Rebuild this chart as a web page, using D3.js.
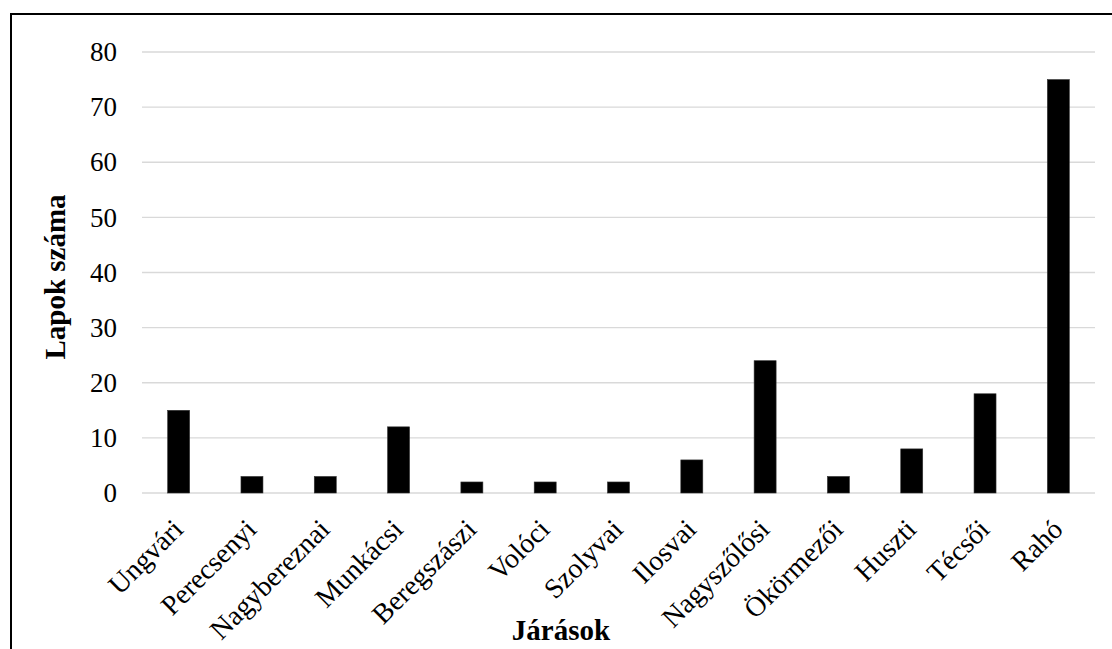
<!DOCTYPE html>
<html><head><meta charset="utf-8">
<script src="https://cdn.jsdelivr.net/npm/d3@7"></script>
<style>body{margin:0;background:#fff}svg{display:block}</style>
</head><body>
<svg id="c" width="1112" height="649"></svg>
<script>
const categories = ["Ungvári","Perecsenyi","Nagybereznai","Munkácsi","Beregszászi","Volóci","Szolyvai","Ilosvai","Nagyszőlősi","Ökörmezői","Huszti","Técsői","Rahó"];
const values = [15,3,3,12,2,2,2,6,24,3,8,18,75];
const yTicks = [0,10,20,30,40,50,60,70,80];
const yTitle = "Lapok száma";
const xTitle = "Járások";

const svg = d3.select("#c");
const font = "'Liberation Serif','Times New Roman',serif";
svg.append("rect").attr("x",11).attr("y",14).attr("width",1112).attr("height",700)
  .attr("fill","#fff").attr("stroke","#000").attr("stroke-width",2);

const m = {l:142, r:1095, t:52, b:493};
const x = d3.scaleBand().domain(categories).range([m.l,m.r]).paddingInner(0.7).paddingOuter(0.35);
const y = d3.scaleLinear().domain([0,80]).range([m.b,m.t]);

const g = svg.append("g");
g.selectAll("line.grid").data(yTicks).join("line").attr("class","grid")
  .attr("x1",m.l).attr("x2",m.r).attr("y1",d=>y(d)).attr("y2",d=>y(d))
  .attr("stroke","#d9d9d9").attr("stroke-width",1.3);

const yAxis = d3.axisLeft(y).tickValues(yTicks).tickSize(0).tickPadding(25);
const ya = g.append("g").attr("transform",`translate(${m.l},0)`).call(yAxis);
ya.select(".domain").remove();
ya.selectAll("text").attr("font-family",font).attr("font-size",27).attr("fill","#000");

g.selectAll("rect.bar").data(values).join("rect").attr("class","bar")
  .attr("x",(d,i)=>x(categories[i])).attr("width",x.bandwidth())
  .attr("y",d=>y(d)).attr("height",d=>y(0)-y(d))
  .attr("fill","#000").attr("stroke","#333").attr("stroke-width",0.6);

const xAxis = d3.axisBottom(x).tickSize(0).tickPadding(0);
const xa = g.append("g").attr("transform",`translate(0,${m.b})`).call(xAxis);
xa.select(".domain").remove();
xa.selectAll("text").attr("font-family",font).attr("font-size",28).attr("fill","#000")
  .attr("text-anchor","end").attr("dy",null).attr("y",0).attr("x",0)
  .attr("transform","translate(6,38) rotate(-45)");

svg.append("text").attr("transform","translate(65,277) rotate(-90)")
  .attr("text-anchor","middle").attr("font-family",font).attr("font-weight","bold")
  .attr("font-size",29).text(yTitle);
svg.append("text").attr("x",561).attr("y",640)
  .attr("text-anchor","middle").attr("font-family",font).attr("font-weight","bold")
  .attr("font-size",29).text(xTitle);
</script>
</body></html>
